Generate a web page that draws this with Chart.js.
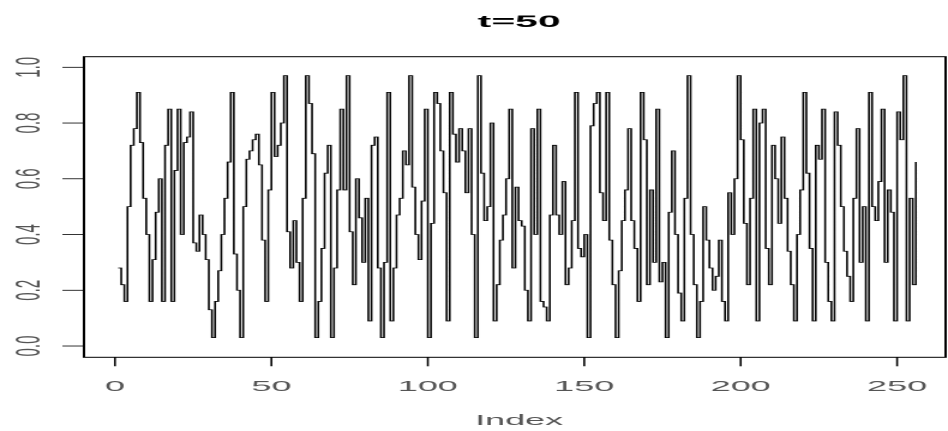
<!DOCTYPE html>
<html>
<head>
<meta charset="utf-8">
<script src="https://cdn.jsdelivr.net/npm/chart.js@4.4.1/dist/chart.umd.min.js"></script>
<style>
html, body { margin: 0; padding: 0; background: #fff; overflow: hidden; }
#wrap { width: 948px; height: 431px; overflow: hidden; }
/* R plot was stretched sideways: draw narrow, then stretch the canvas */
#c { display: block; transform: scaleX(2.4); transform-origin: 0 0; }
</style>
</head>
<body>
<div id="wrap"><canvas id="c" width="395" height="431"></canvas></div>
<script>
const chartTitle = 't=50';
const xLabel = 'Index';
const xTicks = [0, 50, 100, 150, 200, 250];
const yTicks = [0.0, 0.2, 0.4, 0.6, 0.8, 1.0];
const yTickLabels = ['0.0', '0.2', '0.4', '0.6', '0.8', '1.0'];

// series, index 1..256
const values = [
  0.28, 0.22, 0.16, 0.50, 0.72, 0.78, 0.91, 0.73, 0.53, 0.40,
  0.16, 0.31, 0.48, 0.60, 0.16, 0.72, 0.85, 0.16, 0.63, 0.85,
  0.40, 0.73, 0.75, 0.84, 0.37, 0.34, 0.47, 0.40, 0.31, 0.13,
  0.03, 0.16, 0.27, 0.40, 0.53, 0.66, 0.91, 0.33, 0.20, 0.03,
  0.50, 0.67, 0.70, 0.74, 0.76, 0.65, 0.38, 0.16, 0.56, 0.91,
  0.68, 0.72, 0.80, 0.97, 0.41, 0.28, 0.45, 0.30, 0.16, 0.53,
  0.97, 0.87, 0.69, 0.03, 0.16, 0.35, 0.62, 0.72, 0.03, 0.28,
  0.56, 0.85, 0.56, 0.97, 0.41, 0.22, 0.60, 0.46, 0.30, 0.53,
  0.09, 0.72, 0.75, 0.28, 0.03, 0.30, 0.91, 0.09, 0.28, 0.47,
  0.53, 0.70, 0.65, 0.97, 0.57, 0.40, 0.31, 0.52, 0.85, 0.03,
  0.44, 0.91, 0.87, 0.70, 0.55, 0.09, 0.91, 0.76, 0.66, 0.78,
  0.70, 0.55, 0.78, 0.40, 0.03, 0.97, 0.62, 0.45, 0.50, 0.80,
  0.09, 0.22, 0.38, 0.47, 0.60, 0.85, 0.28, 0.57, 0.45, 0.43,
  0.20, 0.09, 0.78, 0.40, 0.85, 0.16, 0.14, 0.09, 0.47, 0.72,
  0.47, 0.40, 0.59, 0.22, 0.28, 0.45, 0.91, 0.35, 0.32, 0.40,
  0.03, 0.79, 0.87, 0.91, 0.55, 0.45, 0.91, 0.38, 0.22, 0.03,
  0.27, 0.45, 0.56, 0.78, 0.45, 0.35, 0.16, 0.91, 0.74, 0.22,
  0.56, 0.30, 0.85, 0.23, 0.30, 0.03, 0.48, 0.70, 0.40, 0.19,
  0.09, 0.53, 0.97, 0.40, 0.22, 0.03, 0.16, 0.50, 0.38, 0.28,
  0.20, 0.25, 0.38, 0.16, 0.09, 0.55, 0.40, 0.60, 0.97, 0.74,
  0.44, 0.22, 0.53, 0.85, 0.09, 0.80, 0.85, 0.35, 0.22, 0.72,
  0.60, 0.44, 0.75, 0.53, 0.34, 0.22, 0.09, 0.40, 0.56, 0.91,
  0.62, 0.35, 0.09, 0.72, 0.67, 0.85, 0.30, 0.16, 0.09, 0.84,
  0.72, 0.50, 0.34, 0.25, 0.16, 0.53, 0.78, 0.30, 0.50, 0.09,
  0.91, 0.50, 0.45, 0.59, 0.85, 0.30, 0.56, 0.48, 0.09, 0.84,
  0.74, 0.97, 0.09, 0.53, 0.22, 0.66
];

const points = values.map((v, i) => ({ x: i + 1, y: v }));

// R-style box, ticks and labels, placed with the chart's own scales
const rAxes = {
  id: 'rAxes',
  afterDraw(chart) {
    const ctx = chart.ctx;
    const a = chart.chartArea;
    const xs = chart.scales.x;
    const ys = chart.scales.y;
    ctx.save();
    ctx.strokeStyle = '#000';
    ctx.lineWidth = 1;
    ctx.strokeRect(a.left, a.top, a.right - a.left, a.bottom - a.top);

    ctx.lineWidth = 0.8;
    ctx.fillStyle = '#555';
    ctx.font = '15px "Liberation Sans", Arial, sans-serif';
    ctx.textAlign = 'center';
    ctx.textBaseline = 'alphabetic';

    xTicks.forEach(v => {
      const px = xs.getPixelForValue(v);
      ctx.beginPath();
      ctx.moveTo(px, a.bottom);
      ctx.lineTo(px, a.bottom + 9);
      ctx.stroke();
      ctx.fillText(String(v), px, 391);
    });

    yTicks.forEach((v, k) => {
      const py = ys.getPixelForValue(v);
      ctx.beginPath();
      ctx.moveTo(a.left - 9, py);
      ctx.lineTo(a.left, py);
      ctx.stroke();
      ctx.save();
      ctx.translate(16.5, py);
      ctx.rotate(-Math.PI / 2);
      ctx.fillText(yTickLabels[k], 0, 0);
      ctx.restore();
    });

    ctx.fillText(xLabel, 216.3, 425);

    ctx.fillStyle = '#000';
    ctx.font = 'bold 17px "Liberation Sans", Arial, sans-serif';
    ctx.fillText(chartTitle, 216.3, 27);
    ctx.restore();
  }
};

new Chart(document.getElementById('c'), {
  type: 'line',
  data: {
    datasets: [{
      data: points,
      stepped: true,
      borderColor: '#000',
      borderWidth: 0.8,
      pointRadius: 0,
      fill: false
    }]
  },
  options: {
    responsive: false,
    maintainAspectRatio: false,
    animation: false,
    devicePixelRatio: 2,
    layout: { padding: { left: 35, right: 1, top: 56.7, bottom: 73.7 } },
    plugins: {
      legend: { display: false },
      tooltip: { enabled: false },
      title: { display: false }
    },
    scales: {
      x: { type: 'linear', min: -9.9, max: 265.5, display: false },
      y: { min: -0.0405, max: 1.038, display: false }
    }
  },
  plugins: [rAxes]
});
</script>
</body>
</html>
